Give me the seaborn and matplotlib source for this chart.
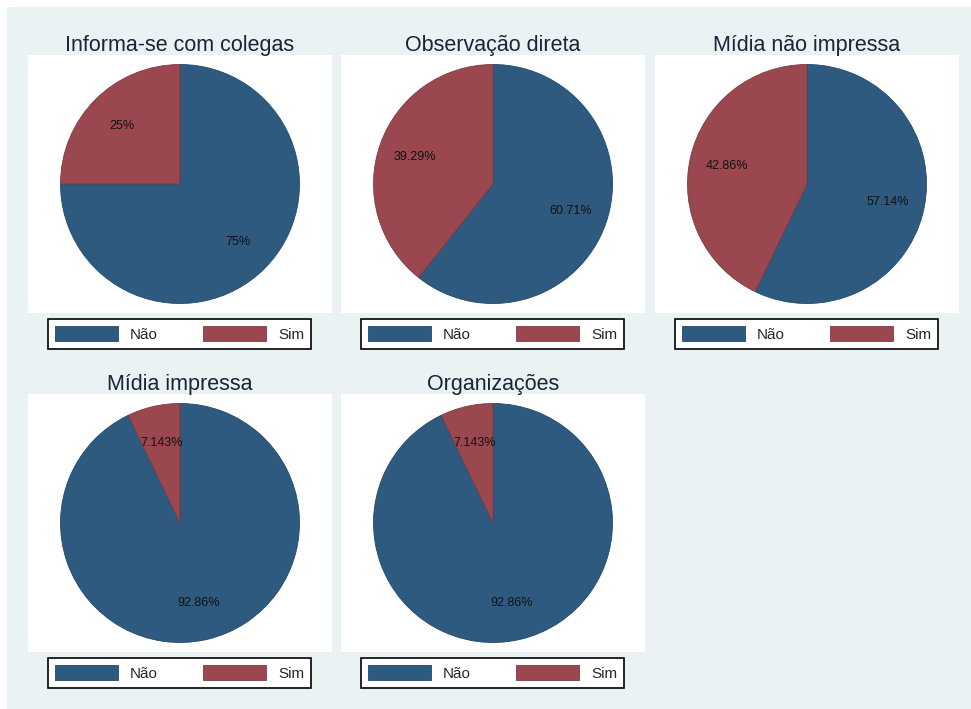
import matplotlib
matplotlib.use("Agg")
import matplotlib.pyplot as plt
from matplotlib.patches import Patch, Rectangle
import seaborn as sns

titles = ["Informa-se com colegas", "Observação direta", "Mídia não impressa",
          "Mídia impressa", "Organizações"]
categories = ["Não", "Sim"]
nao_pct = [75, 60.71, 57.14, 92.86, 92.86]
sim_pct = [25, 39.29, 42.86, 7.143, 7.143]

sns.set_theme(style="white")
plt.rcParams["font.family"] = ["Liberation Sans", "DejaVu Sans"]

colors = ["#2D5A7E", "#9A4750"]
edge = ["#234a6a", "#7e3a42"]
W, H = 971, 709
BG = "#EAF2F3"

fig = plt.figure(figsize=(W / 100, H / 100), dpi=100)
fig.patch.set_facecolor("white")
fig.add_artist(Rectangle((7 / W, 0), (W - 7) / W, (H - 7) / H,
                         transform=fig.transFigure, facecolor=BG,
                         edgecolor="none", zorder=-10))

col_x = [28, 341, 655]
row_y = [55, 394]
pw, ph = 304, 258

for i, title in enumerate(titles):
    r, c = divmod(i, 3)
    x0, y0 = col_x[c], row_y[r]
    ax = fig.add_axes([x0 / W, 1 - (y0 + ph) / H, pw / W, ph / H])
    vals = [nao_pct[i], sim_pct[i]]
    wedges, texts, autotexts = ax.pie(
        vals, colors=colors, startangle=90, counterclock=False, frame=True,
        autopct=lambda p: f"{p:.4g}%", pctdistance=0.69,
        wedgeprops=dict(linewidth=0.6),
        textprops=dict(fontsize=9, color="#111111"))
    for w, e in zip(wedges, edge):
        w.set_edgecolor(e)
    ax.set_facecolor("white")
    ax.patch.set_visible(True)
    lim = ph / 2 / 119.5
    ax.set_ylim(-lim, lim)
    ax.set_xlim(-lim * pw / ph, lim * pw / ph)
    ax.set_aspect("equal")
    for s in ax.spines.values():
        s.set_visible(False)
    ax.set_xticks([]); ax.set_yticks([])
    fig.text((x0 + pw / 2) / W, 1 - (y0 - 10) / H, title, ha="center",
             va="center", fontsize=15.5, color="#1a2536")
    # legend box
    lx0, ly0, lw, lh = x0 + 20, y0 + ph + 5, 263, 32
    handles = [Patch(facecolor=colors[k], edgecolor=edge[k], linewidth=0.6)
               for k in range(2)]
    leg = fig.legend(handles, categories, loc="center",
                     bbox_to_anchor=(lx0 / W, 1 - (ly0 + lh) / H, lw / W, lh / H),
                     mode="expand", ncol=2, frameon=True, fancybox=False,
                     borderaxespad=0, fontsize=11, handlelength=4.1,
                     handleheight=1.15, handletextpad=0.8, borderpad=0.45,
                     columnspacing=2.0)
    fr = leg.get_frame()
    fr.set_edgecolor("black")
    fr.set_linewidth(1.2)
    fr.set_facecolor("white")
    fr.set_alpha(1)

fig.savefig("out.png", dpi=100)
